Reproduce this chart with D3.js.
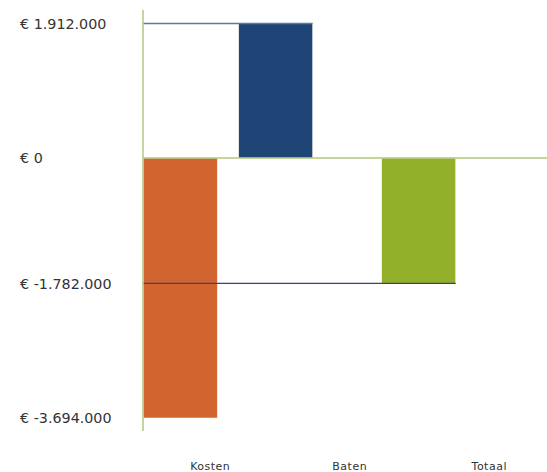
<!DOCTYPE html>
<html><head><meta charset="utf-8">
<script src="https://cdn.jsdelivr.net/npm/d3@7"></script>
<style>body{margin:0;background:#fff;}svg{display:block;font-family:"DejaVu Sans",sans-serif;}</style>
</head><body><svg id="c" width="547" height="472"></svg>
<script>
const categories = ["Kosten", "Baten", "Totaal"];
const barStart = [0, 0, 0];
const barEnd = [-3694000, 1912000, -1782000];
const barColors = ["#d26430", "#1f4577", "#93b02b"];
const tickValues = [1912000, 0, -1782000, -3694000];
const tickLabels = ["€ 1.912.000", "€ 0", "€ -1.782.000", "€ -3.694.000"];
const connectorValues = [1912000, -1782000];
const connectorTo = [1, 2];

const svg = d3.select("#c");
const W = 547, axisX = 143;
const y = d3.scaleLinear().domain([-3694000, 1912000]).range([418, 23.5]);
const xLab = d3.scaleBand().domain(categories).range([140.5, 559]);
// bar placement inside each category band (fraction of band step, from band centre)
const barShift = d3.scaleOrdinal().domain(categories).range([-0.48, -0.796, -0.771]);
const barW = 74;
const barLeft = c => xLab(c) + xLab.bandwidth()/2 + barShift(c)*xLab.bandwidth();

// bars
svg.selectAll("rect.bar").data(categories).enter().append("rect")
  .attr("class","bar")
  .attr("x", c => barLeft(c))
  .attr("width", barW)
  .attr("y", (c,i) => y(Math.max(barStart[i], barEnd[i])))
  .attr("height", (c,i) => Math.abs(y(barStart[i]) - y(barEnd[i])))
  .attr("fill", (c,i) => barColors[i])
  .attr("stroke", "#f3f3ea").attr("stroke-width", 0.6);

// connector lines
connectorValues.forEach((v,i)=>{
  const c = categories[connectorTo[i]];
  svg.append("line").attr("x1", axisX).attr("x2", barLeft(c)+barW)
    .attr("y1", y(v)).attr("y2", y(v))
    .attr("stroke", i===0 ? "#5d7aa0" : "#2c4a78").attr("stroke-width", 1.3);
});

// zero line
svg.append("line").attr("x1", axisX).attr("x2", W).attr("y1", y(0)).attr("y2", y(0))
  .attr("stroke", "#b2c878").attr("stroke-width", 1.5);
// axis line
svg.append("line").attr("x1", axisX).attr("x2", axisX).attr("y1", 10).attr("y2", 431)
  .attr("stroke", "#b2c878").attr("stroke-width", 1.5);

// y tick labels
svg.selectAll("text.yt").data(tickValues).enter().append("text")
  .attr("class","yt").attr("x", 20).attr("y", v => y(v)).attr("dy","0.36em")
  .attr("font-size", 14.3).attr("fill", "#333").text((v,i)=>tickLabels[i]);

// category labels
svg.selectAll("text.xt").data(categories).enter().append("text")
  .attr("class","xt").attr("x", c => xLab(c)+xLab.bandwidth()/2).attr("y", 466)
  .attr("dy","0.35em").attr("text-anchor","middle").attr("letter-spacing", 0.5)
  .attr("font-size", 11).attr("fill", "#333").text(c=>c);
</script></body></html>
